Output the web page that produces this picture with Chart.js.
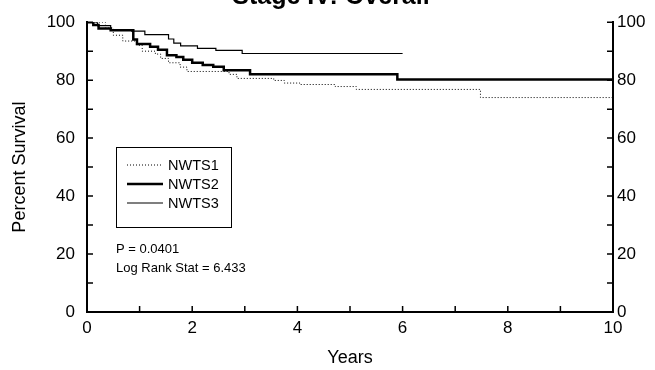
<!DOCTYPE html>
<html>
<head>
<meta charset="utf-8">
<script src="https://cdn.jsdelivr.net/npm/chart.js@4.4.0/dist/chart.umd.min.js"></script>
<style>
html,body{margin:0;padding:0;background:#fff;}
#contenedor{width:655px;height:370px;}
</style>
</head>
<body>
<div id="contenedor"><canvas id="grafica" width="655" height="370"></canvas></div>
<script>
//------- datos de la grafica
var titulo = 'Stage IV: Overall';
var etiquetaX = 'Years';
var etiquetaY = 'Percent Survival';
var textoP = 'P = 0.0401';
var textoLogRank = 'Log Rank Stat = 6.433';
var series = ['NWTS1', 'NWTS2', 'NWTS3'];
var etiquetasX = [0, 2, 4, 6, 8, 10];
var etiquetasY = [0, 20, 40, 60, 80, 100];

// tiempos (años) en que cambia la supervivencia y el valor nuevo (%)
var tiemposNWTS1 = [0, 0.35, 0.5, 0.68, 0.95, 1.05, 1.3, 1.4, 1.55, 1.77, 1.9, 2.7, 2.85, 3.55, 3.75, 4.05, 4.72, 5.12, 7.48, 10];
var survNWTS1 =    [100, 98, 95.5, 93.5, 92, 90, 89, 87.5, 86, 84.5, 83, 82, 80.6, 79.9, 79, 78.5, 77.8, 76.8, 74, 74];

var tiemposNWTS2 = [0, 0.12, 0.22, 0.45, 0.88, 0.95, 1.2, 1.35, 1.52, 1.7, 1.83, 2.0, 2.2, 2.4, 2.6, 3.1, 5.9, 10];
var survNWTS2 =    [100, 99, 97.8, 97.2, 94, 92.5, 91.5, 90.5, 88.6, 88, 87, 86, 85.2, 84.6, 83.4, 82, 80.2, 80.2];

var tiemposNWTS3 = [0, 0.2, 0.45, 0.85, 1.1, 1.55, 1.65, 1.78, 2.1, 2.45, 2.95, 6.0];
var survNWTS3 =    [100, 98.8, 97.3, 96.9, 95.7, 94.2, 92.8, 91.8, 91, 90.3, 89.2, 89.2];

var fuente = '"Liberation Sans", Arial, Helvetica, sans-serif';

function puntos(tiempos, valores){
    return tiempos.map(function(t, i){ return {x: t, y: valores[i]}; });
}

// marcas de los ejes hacia dentro, la leyenda y el texto del test
var pluginExtras = {
    id: 'extras',
    afterDraw: function(chart){
        var ctx = chart.ctx;
        var area = chart.chartArea;
        ctx.save();
        ctx.strokeStyle = '#000';
        ctx.lineWidth = 1.5;
        ctx.beginPath();
        chart.scales.x.ticks.forEach(function(t){
            var px = chart.scales.x.getPixelForValue(t.value);
            ctx.moveTo(px, area.bottom);
            ctx.lineTo(px, area.bottom - 6);
        });
        chart.scales.y.ticks.forEach(function(t){
            var py = chart.scales.y.getPixelForValue(t.value);
            ctx.moveTo(area.left, py);
            ctx.lineTo(area.left + 6, py);
        });
        chart.scales.y2.ticks.forEach(function(t){
            var py = chart.scales.y2.getPixelForValue(t.value);
            ctx.moveTo(area.right, py);
            ctx.lineTo(area.right - 6, py);
        });
        ctx.stroke();

        // titulo (cortado arriba como en el original)
        ctx.fillStyle = '#000';
        ctx.font = 'bold 25px ' + fuente;
        ctx.textAlign = 'center';
        ctx.textBaseline = 'alphabetic';
        ctx.fillText(titulo, 331, 4);

        // leyenda
        ctx.lineWidth = 1;
        ctx.strokeRect(116.5, 147.5, 115, 80);
        ctx.textAlign = 'left';
        ctx.font = '14.5px ' + fuente;
        chart.data.datasets.forEach(function(ds, i){
            var yy = 165 + i * 19;
            ctx.beginPath();
            ctx.lineWidth = ds.borderWidth;
            ctx.setLineDash(ds.borderDash || []);
            ctx.moveTo(127, yy);
            ctx.lineTo(163, yy);
            ctx.stroke();
            ctx.setLineDash([]);
            ctx.fillText(ds.label, 168, yy + 5);
        });

        ctx.font = '13px ' + fuente;
        ctx.fillText(textoP, 116, 253);
        ctx.fillText(textoLogRank, 116, 272);
        ctx.restore();
    }
};

function ejeY(posicion, ancho, padding, conTitulo){
    return {
        type: 'linear',
        position: posicion,
        min: 0,
        max: 100,
        grid: {display: false, drawTicks: false},
        border: {display: true, color: '#000', width: 2},
        ticks: {
            stepSize: 10,
            padding: padding,
            color: '#000',
            font: {family: fuente, size: 17},
            callback: function(v){ return etiquetasY.indexOf(v) >= 0 ? v : ''; }
        },
        title: {
            display: conTitulo,
            text: etiquetaY,
            color: '#000',
            font: {family: fuente, size: 18},
            padding: {top: 9, bottom: 0}
        },
        afterFit: function(s){ s.width = ancho; }
    };
}

var anchos = [1, 2.5, 1.2];
var guiones = [[1, 2], [], []];
var datos = [puntos(tiemposNWTS1, survNWTS1), puntos(tiemposNWTS2, survNWTS2), puntos(tiemposNWTS3, survNWTS3)];

var canvas = document.getElementById('grafica').getContext('2d');
var chart = new Chart(canvas, {
    type: 'line',
    data: {
        datasets: series.map(function(nombre, i){
            return {
                label: nombre,
                data: datos[i],
                yAxisID: 'y',
                stepped: 'before',
                borderColor: '#000',
                borderWidth: anchos[i],
                borderDash: guiones[i],
                pointRadius: 0,
                fill: false
            };
        })
    },
    options: {
        responsive: false,
        devicePixelRatio: 1,
        animation: false,
        layout: {padding: {top: 22, left: 0, right: 0, bottom: 0}},
        plugins: {legend: {display: false}, tooltip: {enabled: false}, title: {display: false}},
        scales: {
            x: {
                type: 'linear',
                min: 0,
                max: 10,
                grid: {display: false, drawTicks: false},
                border: {display: true, color: '#000', width: 2},
                ticks: {
                    stepSize: 1,
                    autoSkip: false,
                    maxRotation: 0,
                    padding: 6,
                    color: '#000',
                    font: {family: fuente, size: 17},
                    callback: function(v){ return etiquetasX.indexOf(v) >= 0 ? v : ''; }
                },
                title: {
                    display: true,
                    text: etiquetaX,
                    color: '#000',
                    font: {family: fuente, size: 18},
                    padding: {top: 0, bottom: 1}
                },
                afterFit: function(s){ s.height = 58; }
            },
            y: ejeY('left', 87, 12, true),
            y2: ejeY('right', 42, 4, false)
        }
    },
    plugins: [pluginExtras]
});
</script>
</body>
</html>
